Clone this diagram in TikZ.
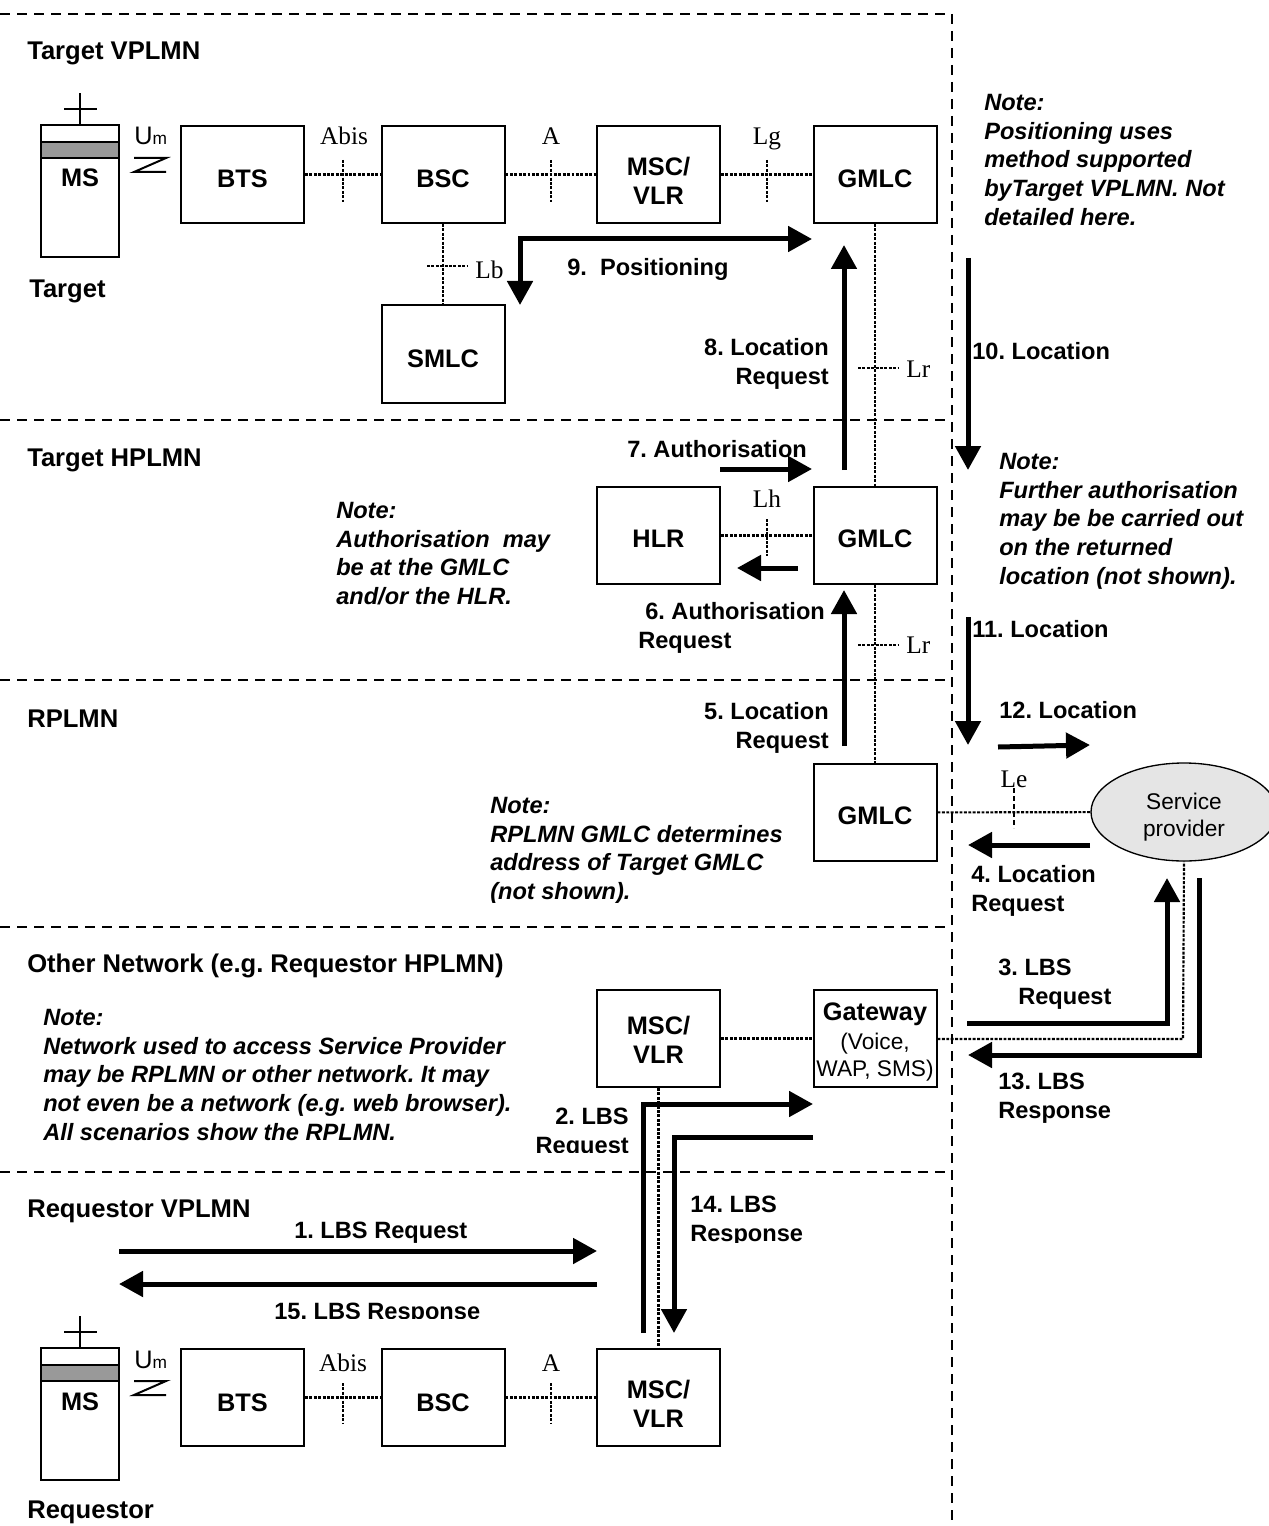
\documentclass[tikz,border=0pt]{standalone}
\usepackage{fontspec}
\setmainfont{Liberation Serif}
\newfontfamily\arialf{Liberation Sans}
\usetikzlibrary{arrows.meta,shapes.geometric}
\frenchspacing
\newcommand{\tp}[1]{\rule{0pt}{#1pt}}
\tikzset{
  x=0.75pt,y=-0.75pt,
  boxn/.style={draw,line width=1.5pt,rectangle,inner sep=0pt,minimum width=92.25pt,minimum height=72.75pt,align=center,font=\fontsize{19}{21.8}\selectfont\arialf\bfseries},
  msbody/.style={draw,line width=1.5pt,rectangle,inner sep=0pt,minimum width=58.5pt,minimum height=99pt},
  dotl/.style={line width=1.6pt,dash pattern=on 2.2pt off 1.1pt},
  zone/.style={line width=2.2pt,dash pattern=on 7.5pt off 5.25pt},
  thk/.style={line width=3.75pt,-{Triangle[length=18pt,width=18.75pt]}},
  thkb/.style={line width=3.75pt,{Triangle[length=18pt,width=18.75pt]}-{Triangle[length=18pt,width=18.75pt]}},
  lab/.style={inner sep=0pt,align=left,font=\fontsize{19.2}{21.8}\selectfont\arialf\bfseries},
  flw/.style={inner sep=0pt,align=left,font=\fontsize{17.7}{21.9}\selectfont\arialf\bfseries},
  note/.style={inner sep=0pt,align=left,anchor=north west,font=\fontsize{17.7}{21.5}\selectfont\arialf\bfseries\itshape},
  ifc/.style={inner sep=0pt,font=\fontsize{19}{22}\selectfont},
  plain/.style={inner sep=0pt,align=center,font=\fontsize{17}{20.3}\selectfont\arialf},
  sym/.style={line width=1.5pt}
}
\begin{document}
\begin{tikzpicture}
\useasboundingbox (0,0) rectangle (1269,1526);
% zone borders
\coordinate (ztl) at (0,14); \coordinate (ztr) at (952,14); \coordinate (zbr) at (952,1520);
\draw[zone] (ztl) -- (ztr) -- (zbr);
\foreach \yy/\nm in {420/a,680/b,927/c,1172/d}{
  \coordinate (zl\nm) at (0,\yy); \coordinate (zr\nm) at (952,\yy);
  \draw[zone] (zl\nm) -- (zr\nm);
}
% top row
\node[msbody] (ms1) at (80,191) {};
\node[boxn] (bts1) at (242.5,174.5) {\tp{19.7}BTS};
\node[boxn] (bsc1) at (443,174.5) {\tp{19.7}BSC};
\node[boxn] (msc1) at (658.5,174.5) {\tp{22.6}MSC/\\VLR};
\node[boxn] (gmlc1) at (875,174.5) {\tp{19.7}GMLC};
\node[boxn] (smlc) at (443,354) {\tp{21.1}SMLC};
\node[boxn] (hlr) at (658.5,535.5) {\tp{18.2}HLR};
\node[boxn] (gmlc2) at (875,535.5) {\tp{18.2}GMLC};
\node[boxn] (gmlc3) at (875,812.5) {\tp{18.2}GMLC};
\node[boxn] (msc2) at (658.5,1038.5) {\tp{15.5}MSC/\\VLR};
\node[boxn] (gw) at (875,1038.5) {};
\node[boxn,draw=none,minimum width=0pt,minimum height=0pt,anchor=base] (gwt) at (875,1020) {Gateway};
\node[plain,anchor=base] (gwv) at (875,1049) {(Voice,};
\node[plain,anchor=base] (gww) at (875,1076) {WAP, SMS)};
\node[draw,line width=1pt,ellipse,fill=black!10,minimum width=139.5pt,minimum height=73.5pt,inner sep=0pt,align=center,font=\fontsize{17}{20.3}\selectfont\arialf] (sp) at (1184,812) {\tp{20}Service\\provider};
% bottom row
\node[msbody] (ms2) at (80,1414) {};
\node[boxn] (bts2) at (242.5,1397.5) {\tp{21.1}BTS};
\node[boxn] (bsc2) at (443,1397.5) {\tp{21.1}BSC};
\node[boxn] (msc3) at (658.5,1397.5) {\tp{22.6}MSC/\\VLR};
% MS details
\foreach \nm/\yt in {ms1/125,ms2/1348}{
  \coordinate (\nm s1) at (41,\yt+17); \coordinate (\nm s2) at (119,\yt+33);
  \draw[line width=1.5pt,fill=black!40] (\nm s1) rectangle (\nm s2);
  \coordinate (\nm a1) at (80,\yt); \coordinate (\nm a2) at (80,\yt-32);
  \coordinate (\nm a3) at (64,\yt-16); \coordinate (\nm a4) at (97,\yt-16);
  \draw[sym] (\nm a1) -- (\nm a2) (\nm a3) -- (\nm a4);
  \coordinate (\nm z1) at (134,\yt+33); \coordinate (\nm z2) at (166,\yt+33);
  \coordinate (\nm z3) at (134,\yt+47); \coordinate (\nm z4) at (166,\yt+47);
  \draw[sym] (\nm z1) -- (\nm z2) -- (\nm z3) -- (\nm z4);
  \node[inner sep=0pt,anchor=base west,font=\fontsize{19}{22}\selectfont\arialf] (\nm um) at (134,\yt+20) {U\fontsize{13}{15}\selectfont m};
}
\node[boxn,draw=none,minimum width=0pt,minimum height=0pt,anchor=base] (ms1l) at (80,187) {MS};
\node[boxn,draw=none,minimum width=0pt,minimum height=0pt,anchor=base] (ms2l) at (80,1410) {MS};
% interfaces
\draw[dotl] (bts1) -- (bsc1);
\draw[dotl] (bsc1) -- (msc1);
\draw[dotl] (msc1) -- (gmlc1);
\draw[dotl] (bsc1) -- (smlc);
\draw[dotl] (gmlc1.south) -- (gmlc2.north);
\draw[dotl] (hlr) -- (gmlc2);
\draw[dotl] (gmlc2.south) -- (gmlc3.north);
\draw[dotl] (gmlc3) -- (sp);
\draw[dotl] (msc2) -- (gw);
\draw[dotl] (gw.east |- 0,1039) -- (1183,1039) -- (sp.south);
\draw[dotl] (msc2.south) -- (msc3.north);
\draw[dotl] (bts2) -- (bsc2);
\draw[dotl] (bsc2) -- (msc3);
% ticks
\foreach \nm/\xa/\ya/\xb/\yb in {t1/343/160/343/202,t2/551/160/551/202,t3/767/160/767/202,t4/427/266/467/266,t5/858/368/898/368,t6/767/519/767/556,t7/858/645/898/645,t8/343/1383/343/1423,t9/551/1383/551/1423}{
  \coordinate (\nm a) at (\xa,\ya); \coordinate (\nm b) at (\xb,\yb);
  \draw[dotl] (\nm a) -- (\nm b);
}
\coordinate (t10a) at (1014,788); \coordinate (t10b) at (1014,828);
\draw[line width=1.5pt,dash pattern=on 4pt off 2pt] (t10a) -- (t10b);
\node[ifc,anchor=base] (abis1) at (344,145) {Abis};
\node[ifc,anchor=base] (a1) at (551,145) {A};
\node[ifc,anchor=base] (lg) at (767,145) {Lg};
\node[ifc,anchor=base west] (lb) at (475,279) {Lb};
\node[ifc,anchor=base west] (lr1) at (906,377) {Lr};
\node[ifc,anchor=base] (lh) at (767,507) {Lh};
\node[ifc,anchor=base west] (lr2) at (906,653) {Lr};
\node[ifc,anchor=base] (le) at (1014,787) {Le};
\node[ifc,anchor=base] (abis2) at (343,1371) {Abis};
\node[ifc,anchor=base] (a2) at (551,1371) {A};
% arrows
\draw[thkb] (520,305) coordinate (a9s) -- (520,239) coordinate (a9m) -- (812,239) coordinate (a9e);
\draw[thk] (844,470) coordinate (a8s) -- (844,245) coordinate (a8e);
\draw[thk] (720,469) coordinate (a7s) -- (812,469) coordinate (a7e);
\draw[thk] (798,568) coordinate (a6s) -- (737,568) coordinate (a6e);
\draw[thk] (844,746) coordinate (a5s) -- (844,590) coordinate (a5e);
\draw[thk] (968,258) coordinate (a10s) -- (968,470) coordinate (a10e);
\draw[thk] (968,617) coordinate (a11s) -- (968,745) coordinate (a11e);
\draw[thk] (998,747) coordinate (a12s) -- (1090,745) coordinate (a12e);
\draw[thk] (1090,845) coordinate (a4s) -- (968,845) coordinate (a4e);
\draw[thk] (967,1023) coordinate (a3s) -- (1167,1023) coordinate (a3m) -- (1167,878) coordinate (a3e);
\draw[thk] (1199,878) coordinate (a13s) -- (1199,1055) coordinate (a13m) -- (968,1055) coordinate (a13e);
\draw[thk] (643,1333) coordinate (a2s) -- (643,1104) coordinate (a2m) -- (813,1104) coordinate (a2e);
\draw[thk] (813,1137) coordinate (a14s) -- (674,1137) coordinate (a14m) -- (674,1333) coordinate (a14e);
\draw[thk] (119,1251) coordinate (a1s) -- (597,1251) coordinate (a1e);
\draw[thk] (597,1284) coordinate (a15s) -- (119,1284) coordinate (a15e);
% zone and actor labels
\node[lab,anchor=base west] (zn1) at (27,60) {Target VPLMN};
\node[lab,anchor=base west] (zn2) at (27,466) {Target HPLMN};
\node[lab,anchor=base west] (zn3) at (27,727) {RPLMN};
\node[lab,anchor=base west] (zn4) at (27,972) {Other Network (e.g. Requestor HPLMN)};
\node[lab,anchor=base west] (zn5) at (27,1217) {Requestor VPLMN};
\node[lab,anchor=base west] (act1) at (29,297) {Target};
\node[lab,anchor=base west] (act2) at (27,1518) {Requestor};
% flow labels
\node[flw,anchor=base west] (l9) at (567,276) {9.\ \ Positioning};
\node[flw,anchor=north east,align=right] (l8) at (829,338) {8. Location\\Request};
\node[flw,anchor=base west] (l10) at (972,359) {10. Location};
\node[flw,anchor=base west] (l7) at (627,457) {7. Authorisation};
\node[flw,anchor=north west] (l6) at (638,602) {\hspace*{5.25pt}6. Authorisation\\Request};
\node[flw,anchor=north east,align=right] (l5) at (829,702) {5. Location\\Request};
\node[flw,anchor=base west] (l11) at (972,637) {11. Location};
\node[flw,anchor=base west] (l12) at (999,718) {12. Location};
\node[flw,anchor=north west] (l4) at (971,865) {4. Location\\Request};
\node[flw,anchor=north west] (l3) at (998,959) {3. LBS\\\hspace*{15pt}Request};
\node[flw,anchor=north west] (l13) at (998,1073) {13. LBS\\Response};
\begin{scope}
  \clip (500,1090) rectangle (640,1152);
  \node[flw,anchor=north east,align=right] (l2) at (629,1108) {2. LBS\\Request};
\end{scope}
\begin{scope}
  \clip (685,1190) rectangle (820,1242);
  \node[flw,anchor=north west] (l14) at (690,1196) {14. LBS\\Response};
\end{scope}
\node[flw,anchor=base west] (l1) at (294,1238) {1. LBS Request};
\begin{scope}
  \clip (260,1295) rectangle (500,1318);
  \node[flw,anchor=base west] (l15) at (274,1319) {15. LBS Response};
\end{scope}
% notes
\node[note] (n1) at (984,94) {Note:\\Positioning uses\\method supported\\byTarget VPLMN. Not\\detailed here.};
\node[note] (n2) at (999,453) {Note:\\Further authorisation\\may be be carried out\\on the returned\\location (not shown).};
\node[note] (n3) at (336,502) {Note:\\Authorisation\ \ may\\be at the GMLC\\and/or the HLR.};
\begin{scope}
  \clip (480,790) rectangle (800,902);
  \node[note] (n4) at (490,797) {Note:\\RPLMN GMLC determines\\address of Target GMLC\\(not shown).};
\end{scope}
\node[note] (n5) at (43,1009) {Note:\\Network used to access Service Provider\\may be RPLMN or other network. It may\\not even be a network (e.g. web browser).\\All scenarios show the RPLMN.};
\end{tikzpicture}
\end{document}
